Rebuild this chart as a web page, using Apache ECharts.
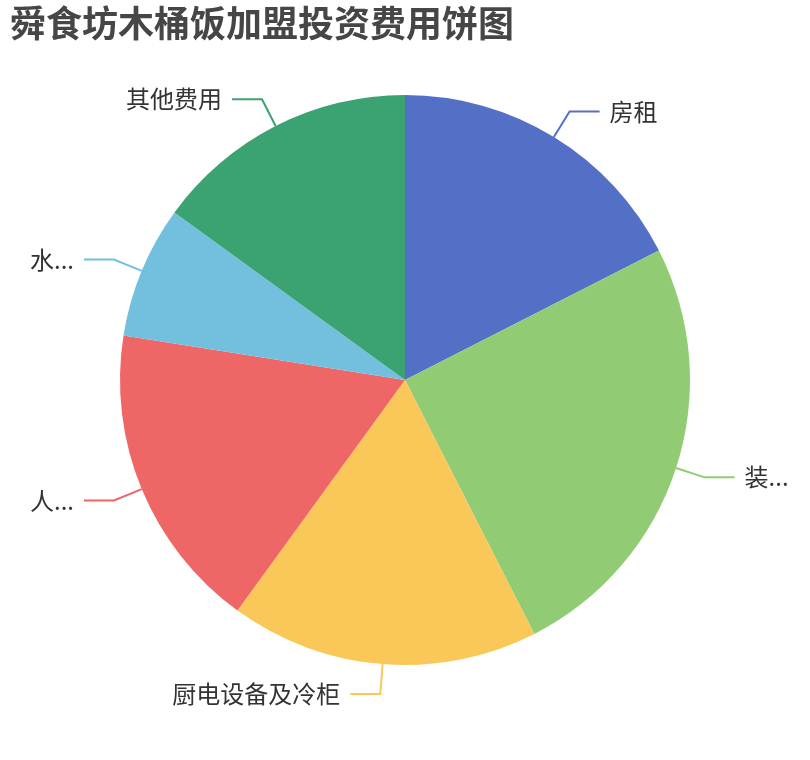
<!DOCTYPE html>
<html>
<head>
<meta charset="utf-8">
<script src="https://cdn.jsdelivr.net/npm/echarts@6/dist/echarts.min.js"></script>
<style>
  html, body { margin: 0; padding: 0; background: #fff; }
  #main { width: 810px; height: 760px; }
</style>
</head>
<body>
<div id="main"></div>
<script>
// 费用项目和金额（万元）
var categories = ['房租', '装修费用', '厨电设备及冷柜', '人员工资', '水电费用', '其他费用'];
var values = [3.5, 5, 3.5, 3.5, 1.5, 3];

var chart = echarts.init(document.getElementById('main'));

var pieData = categories.map(function (name, i) {
  return { name: name, value: values[i] };
});

chart.setOption({
  color: ['#5470c6', '#91cc75', '#fac858', '#ee6666', '#73c0de', '#3ba272'],
  title: {
    text: '舜食坊木桶饭加盟投资费用饼图',
    left: 5,
    top: 0,
    textStyle: {
      fontSize: 36,
      fontWeight: 'bold',
      color: '#464646',
      fontFamily: 'Noto Sans CJK SC'
    }
  },
  series: [{
    type: 'pie',
    center: ['50%', '50%'],
    radius: '75%',
    data: pieData,
    label: {
      fontSize: 24,
      color: '#333',
      distanceToLabelLine: 10,
      fontFamily: 'Noto Sans CJK SC'
    },
    labelLine: {
      length: 30,
      length2: 30,
      lineStyle: { width: 2 }
    }
  }]
});
</script>
</body>
</html>
